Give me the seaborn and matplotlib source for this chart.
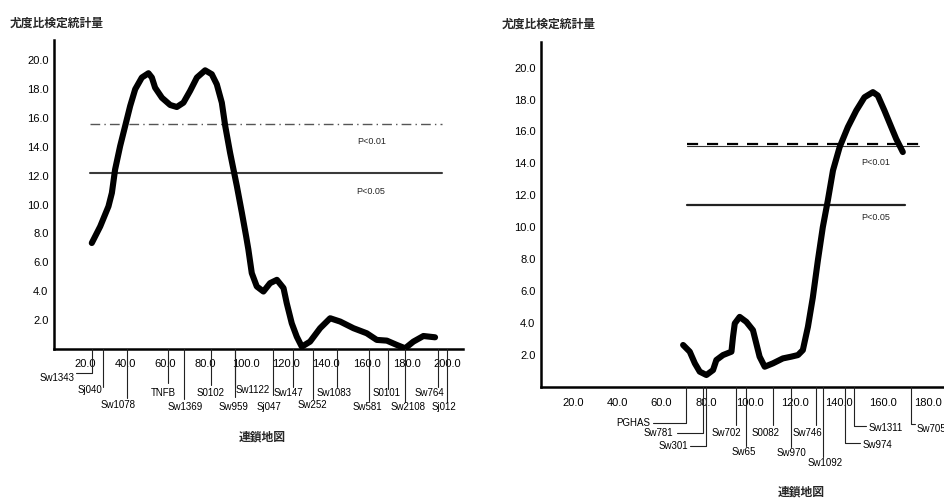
import matplotlib
matplotlib.use("Agg")
import matplotlib.pyplot as plt
from matplotlib.lines import Line2D
from matplotlib.ticker import FormatStrFormatter
import pandas as pd
import seaborn as sns

# ---- likelihood-ratio scan, first linkage group ----
a_pos = [23.3, 27.5, 31.6, 33.3, 34.9, 37.4, 39.9, 42.4, 44.9, 48.2, 51.5, 53.2,
         54.8, 58.2, 62.3, 65.6, 68.9, 72.2, 75.6, 79.7, 83.0, 85.5, 88.0,
         89.7, 92.1, 95.5, 98.0, 100.1, 101.2, 102.9, 105.4, 108.7, 112.0,
         115.4, 118.7, 120.3, 122.8, 125.3, 127.8, 131.9, 136.9, 141.9, 146.9,
         153.5, 160.1, 165.1, 170.1, 175.1, 179.2, 183.3, 188.3, 194.1]
a_lr = [7.34, 8.49, 9.88, 10.81, 12.43, 14.05, 15.44, 16.83, 17.99, 18.8, 19.1, 18.8,
        18.1, 17.4, 16.9, 16.76, 17.06, 17.87, 18.8, 19.3, 19.03, 18.33, 17.06,
        15.44, 13.6, 11.27, 9.42, 7.8, 6.9, 5.26, 4.33, 3.98, 4.56,
        4.79, 4.22, 3.17, 1.78, 0.85, 0.16, 0.51, 1.44, 2.13, 1.9,
        1.44, 1.09, 0.63, 0.58, 0.28, 0.05, 0.51, 0.9, 0.81]

# ---- likelihood-ratio scan, second linkage group ----
b_pos = [69.7, 72.7, 75.0, 77.2, 80.2, 83.2, 84.7, 87.7, 91.5, 92.2, 93.0, 95.2,
         98.2, 101.2, 102.7, 104.2, 106.5, 110.2, 114.7, 118.5, 121.5, 123.7,
         126.0, 128.2, 130.5, 132.7, 135.0, 137.3, 140.3, 144.0, 147.8, 151.5,
         155.3, 157.5, 160.5, 163.6, 165.8, 168.8]
b_lr = [2.63, 2.21, 1.48, 0.96, 0.75, 1.06, 1.69, 2.0, 2.21, 3.14, 3.98, 4.39,
        4.08, 3.56, 2.73, 1.9, 1.27, 1.48, 1.79, 1.9, 2.0, 2.31,
        3.77, 5.6, 7.94, 10.0, 11.7, 13.56, 15.02, 16.27, 17.31, 18.14,
        18.46, 18.25, 17.31, 16.27, 15.54, 14.71]

# ---- marker maps ----
a_markers = ["Sw1343", "Sj040", "Sw1078", "TNFB", "Sw1369", "S0102", "Sw959",
             "Sw1122", "Sj047", "Sw147", "Sw252", "Sw1083", "Sw581", "S0101",
             "Sw2108", "Sw764", "Sj012"]
a_marker_pos = [23.5, 29.0, 41.0, 61.0, 69.0, 82.7, 94.6, 94.6, 113.5, 123.5,
                133.4, 145.4, 161.3, 170.7, 179.2, 195.6, 200.0]

b_markers = ["PGHAS", "Sw781", "Sw301", "Sw702", "Sw65", "S0082", "Sw970",
             "Sw746", "Sw1092", "Sw974", "Sw1311", "Sw705"]
b_marker_pos = [70.9, 78.6, 79.9, 93.4, 97.9, 110.1, 118.2, 129.5, 132.6,
                142.5, 147.0, 172.3]

# ---- significance thresholds ----
threshold_labels = ["P<0.01", "P<0.05"]
a_thresholds = [15.55, 12.2]
b_thresholds = [15.1, 11.4]

y_ticks = [2, 4, 6, 8, 10, 12, 14, 16, 18, 20]
a_xticks = [20, 40, 60, 80, 100, 120, 140, 160, 180, 200]
b_xticks = [20, 40, 60, 80, 100, 120, 140, 160, 180]

y_title = "尤度比検定統計量"
x_title = "連鎖地図"

# label placement below the axis (pixels): ha, dx, label depth, line depth, elbow dx
a_layout = [("right", -18, 29, 24, -16), ("right", -1, 41, 38, None),
            ("center", -9, 56, 49, None), ("center", -4, 44, 34, None),
            ("center", 2, 58, 50, None), ("center", -1, 44, 36, None),
            ("center", -2, 58, 48, None), ("center", 18, 41, 36, None),
            ("center", -4, 58, 46, None), ("center", -5, 44, 38, None),
            ("center", -1, 56, 50, None), ("center", -3, 44, 38, None),
            ("center", -2, 58, 52, None), ("center", -1, 44, 40, None),
            ("center", 3, 58, 53, None), ("center", -9, 44, 38, None),
            ("center", -3, 58, 53, None)]
b_layout = [("right", -36, 36, 36, -33), ("right", -30, 46, 46, -26),
            ("right", -18, 59, 59, -16), ("center", -9, 46, 38, None),
            ("center", -2, 65, 59, None), ("center", -7, 46, 38, None),
            ("center", 1, 66, 60, None), ("center", -8, 46, 38, None),
            ("center", 3, 76, 70, None), ("left", 18, 58, 56, 15),
            ("left", 14, 41, 39, 12), ("left", 6, 42, 37, 4)]

sns.set_theme(style="white")
plt.rcParams["font.family"] = ["Liberation Sans", "Noto Sans CJK JP", "DejaVu Sans"]
cjk = ["Noto Sans CJK JP", "DejaVu Sans"]

W, H = 945, 499
fig = plt.figure(figsize=(W / 100, H / 100), dpi=100)
fig.patch.set_facecolor("white")

ax_a = fig.add_axes([54 / W, (H - 349) / H, (463 - 54) / W, (349 - 40) / H])
ax_b = fig.add_axes([541 / W, (H - 387) / H, (972 - 541) / W, (387 - 42) / H])


def style_axes(ax, xlim, ylim, xticks, xpad):
    ax.set_xlim(*xlim)
    ax.set_ylim(*ylim)
    for side in ("top", "right"):
        ax.spines[side].set_visible(False)
    for side in ("left", "bottom"):
        ax.spines[side].set_color("black")
        ax.spines[side].set_linewidth(1.8)
    ax.set_yticks(y_ticks)
    ax.set_xticks(xticks)
    ax.yaxis.set_major_formatter(FormatStrFormatter("%.1f"))
    ax.xaxis.set_major_formatter(FormatStrFormatter("%.1f"))
    ax.tick_params(axis="y", direction="out", length=3, width=0.8,
                   labelsize=8, pad=1, colors="black")
    ax.tick_params(axis="x", direction="out", length=0, labelsize=8,
                   pad=xpad, colors="black")
    ax.grid(False)
    ax.set_facecolor("white")


def draw_markers(ax, names, positions, layout):
    inv = fig.transFigure.inverted()
    y0 = ax.get_ylim()[0]
    for name, pos, (ha, dx, ldepth, depth, elbow) in zip(names, positions, layout):
        xd, yd = ax.transData.transform((pos, y0))
        pts = [(xd, yd), (xd, yd - depth)]
        if elbow is not None:
            pts.append((xd + elbow, yd - depth))
        fp = inv.transform(pts)
        fig.add_artist(Line2D(fp[:, 0], fp[:, 1], transform=fig.transFigure,
                              color="#222222", lw=0.8))
        tx, ty = inv.transform((xd + dx, yd - ldepth))
        fig.text(tx, ty, name, ha=ha, va="center", fontsize=7, color="black")


# first panel
style_axes(ax_a, (4.5, 208), (0, 21.4), a_xticks, 7)
ax_a.plot([22.5, 197.6], [a_thresholds[0]] * 2, color="#555555", lw=1.0,
          ls=(0, (7, 3, 1, 3)))
ax_a.plot([22.5, 197.6], [a_thresholds[1]] * 2, color="#3a3a3a", lw=1.5)
sns.lineplot(data=pd.DataFrame({"pos": a_pos, "lr": a_lr}), x="pos", y="lr",
             ax=ax_a, color="black", lw=4.4, sort=False,
             solid_joinstyle="round", solid_capstyle="round")
ax_a.text(162.8, 14.4, threshold_labels[0], fontsize=6.5, ha="center", va="center")
ax_a.text(162.0, 10.9, threshold_labels[1], fontsize=6.5, ha="center", va="center")
ax_a.set_xlabel("")
ax_a.set_ylabel("")

# second panel
style_axes(ax_b, (5.6, 200), (0, 21.6), b_xticks, 8)
ax_b.plot([71.4, 176.3], [b_thresholds[0]] * 2, color="#333333", lw=0.8)
ax_b.plot([71.4, 176.3], [b_thresholds[0] + 0.1] * 2, color="black", lw=1.6,
          ls=(0, (5, 4)))
ax_b.plot([71.4, 170.0], [b_thresholds[1]] * 2, color="#222222", lw=1.6)
sns.lineplot(data=pd.DataFrame({"pos": b_pos, "lr": b_lr}), x="pos", y="lr",
             ax=ax_b, color="black", lw=4.4, sort=False,
             solid_joinstyle="round", solid_capstyle="round")
ax_b.text(156.5, 14.06, threshold_labels[0], fontsize=6.5, ha="center", va="center")
ax_b.text(156.5, 10.6, threshold_labels[1], fontsize=6.5, ha="center", va="center")
ax_b.set_xlabel("")
ax_b.set_ylabel("")

draw_markers(ax_a, a_markers, a_marker_pos, a_layout)
draw_markers(ax_b, b_markers, b_marker_pos, b_layout)

# titles
fig.text(10 / W, 1 - 23 / H, y_title, family=cjk, fontsize=8.5, weight="bold",
         ha="left", va="center")
fig.text(502 / W, 1 - 24 / H, y_title, family=cjk, fontsize=8.5, weight="bold",
         ha="left", va="center")
fig.text(262 / W, 1 - 437 / H, x_title, family=cjk, fontsize=8.5, weight="bold",
         ha="center", va="center")
fig.text(801 / W, 1 - 492 / H, x_title, family=cjk, fontsize=8.5, weight="bold",
         ha="center", va="center")

fig.savefig("out.png", dpi=100, facecolor="white")
